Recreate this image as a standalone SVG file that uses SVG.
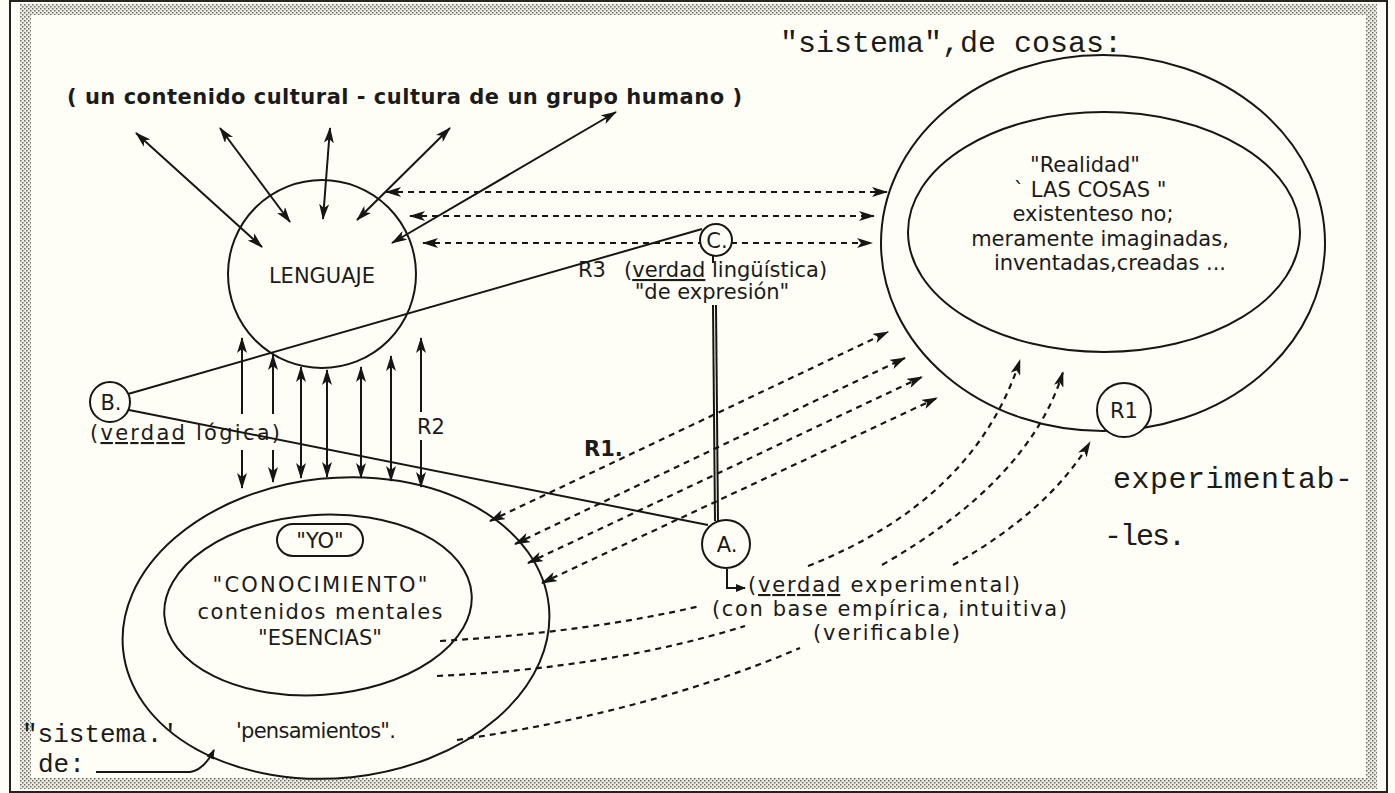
<svg xmlns="http://www.w3.org/2000/svg" width="1395" height="793" viewBox="0 0 1395 793">
<defs>
<pattern id="stip" width="4" height="4" patternUnits="userSpaceOnUse">
<rect width="4" height="4" fill="#ecece4"/>
<rect width="1.5" height="1.5" fill="#6d6d66"/>
<rect x="2" y="2" width="1.5" height="1.5" fill="#6d6d66"/>
</pattern>
<marker id="ah" viewBox="0 0 16 10" refX="15" refY="5" markerWidth="16" markerHeight="10" markerUnits="userSpaceOnUse" orient="auto-start-reverse"><path d="M0,0 L16,5 L0,10 L4,5 z" fill="#161616"/></marker>
<marker id="as" viewBox="0 0 10 8" refX="9" refY="4" markerWidth="10" markerHeight="8" markerUnits="userSpaceOnUse" orient="auto"><path d="M0,0 L10,4 L0,8 z" fill="#161616"/></marker>
</defs>
<style>
.t{font-family:"DejaVu Sans","Liberation Sans",sans-serif;font-size:21px;fill:#1b1b1b}
.c{text-anchor:middle}
.m{font-family:"Liberation Mono","Courier New",monospace;fill:#1b1b1b}
.ln{stroke:#161616;stroke-width:2;fill:none}
.ds{stroke:#161616;stroke-width:2.2;fill:none;stroke-dasharray:6 5}
.a2{marker-start:url(#ah);marker-end:url(#ah)}
.a1{marker-end:url(#ah)}
.nd{fill:#fffef6;stroke:#161616;stroke-width:2}
.u{text-decoration:underline}
</style>
<rect width="1395" height="793" fill="#fffef6"/>
<g id="frame">
<rect x="20" y="4" width="1357" height="11" fill="url(#stip)"/>
<rect x="20" y="4" width="11" height="785" fill="url(#stip)"/>
<rect x="1366" y="4" width="11" height="785" fill="url(#stip)"/>
<rect x="20" y="778" width="1357" height="11" fill="url(#stip)"/>
<rect x="10" y="1" width="1377" height="791" fill="none" stroke="#222" stroke-width="2"/>
</g>

<g id="titles">
<text class="t" x="67" y="104" font-weight="bold" font-size="20" textLength="675">( un contenido cultural - cultura de un grupo humano )</text>
<text class="m" x="780" y="52" font-size="30">"sistema",de cosas:</text>
</g>

<g id="connectors">
<line x1="262" y1="247" x2="136" y2="133" class="ln a2"/>
<line x1="290" y1="222" x2="220" y2="128" class="ln a2"/>
<line x1="323" y1="219" x2="330" y2="128" class="ln a2"/>
<line x1="357" y1="220" x2="450" y2="128" class="ln a2"/>
<line x1="392" y1="243" x2="616" y2="112" class="ln a2"/>

<line x1="386" y1="192" x2="887" y2="192" class="ds a2"/>
<line x1="410" y1="216" x2="874" y2="216" class="ds a2"/>
<line x1="423" y1="243" x2="872" y2="243" class="ds a2"/>

<line x1="242" y1="414" x2="242" y2="338" class="ln a1"/>
<line x1="242" y1="450" x2="242" y2="488" class="ln a1"/>
<line x1="273" y1="414" x2="273" y2="355" class="ln a1"/>
<line x1="273" y1="450" x2="273" y2="482" class="ln a1"/>
<line x1="301" y1="367" x2="301" y2="478" class="ln a2"/>
<line x1="327" y1="370" x2="327" y2="477" class="ln a2"/>
<line x1="361" y1="367" x2="361" y2="478" class="ln a2"/>
<line x1="391" y1="356" x2="391" y2="481" class="ln a2"/>
<line x1="421" y1="412" x2="421" y2="338" class="ln a1"/>
<line x1="421" y1="440" x2="421" y2="487" class="ln a1"/>

<line x1="128" y1="394" x2="702" y2="229" class="ln"/>
<line x1="129" y1="410" x2="708" y2="525" class="ln"/>
<line x1="713" y1="256" x2="713" y2="263" class="ln"/>
<line x1="713" y1="305" x2="715" y2="521" class="ln" stroke-width="1.6"/>
<line x1="716" y1="305" x2="718" y2="521" class="ln" stroke-width="1.6"/>

<line x1="490" y1="521" x2="888" y2="332" class="ds a2"/>
<line x1="515" y1="544" x2="905" y2="358" class="ds a2"/>
<line x1="528" y1="563" x2="922" y2="377" class="ds a2"/>
<line x1="542" y1="583" x2="937" y2="398" class="ds a2"/>

<path d="M440,641 Q590,632 700,606" class="ds"/>
<path d="M437,676 Q610,668 745,626" class="ds"/>
<path d="M457,740 Q650,712 800,648" class="ds"/>
<path d="M808,566 Q975,500 1020,360" class="ds a1"/>
<path d="M882,565 Q1030,480 1063,372" class="ds a1"/>
<path d="M953,565 Q1050,510 1090,442" class="ds a1"/>

<path d="M727,569 L727,588 L745,588" class="ln" marker-end="url(#as)"/>
<path d="M96,772 L190,772 Q204,770 214,750" class="ln" stroke-width="1.6" marker-end="url(#as)"/>
</g>

<g id="lenguaje">
<circle cx="322" cy="274" r="94" class="ln"/>
<text class="t c" x="322" y="283" font-size="24">LENGUAJE</text>
</g>

<g id="nodeC">
<circle cx="716" cy="240" r="16" class="nd"/>
<text class="t c" x="717" y="248" font-size="21">C.</text>
<text class="t" x="578" y="277" font-size="20">R3</text>
<text class="t" x="624" y="277" font-size="20">(<tspan class="u">verdad</tspan> lingüística)</text>
<text class="t c" x="712" y="299" font-size="20">"de expresión"</text>
</g>

<g id="nodeB">
<circle cx="110" cy="402" r="20" class="nd"/>
<text class="t c" x="111" y="410" font-size="21">B.</text>
<text class="t" x="90" y="440" font-size="22" textLength="190">(<tspan class="u">verdad</tspan> lógica)</text>
<text class="t" x="417" y="434" font-size="20">R2</text>
</g>

<g id="nodeA">
<circle cx="726" cy="544" r="24" class="nd"/>
<text class="t c" x="727" y="552" font-size="21">A.</text>
<text class="t" x="584" y="456" font-size="22" font-weight="bold">R1.</text>
<text class="t" x="748" y="592" font-size="21" textLength="272">(<tspan class="u">verdad</tspan> experimental)</text>
<text class="t" x="712" y="616" font-size="21" textLength="355">(con base empírica, intuitiva)</text>
<text class="t" x="813" y="640" font-size="21" textLength="147">(verificable)</text>
</g>

<g id="yo">
<ellipse cx="336" cy="628" rx="214" ry="150" transform="rotate(-6 336 628)" class="ln"/>
<ellipse cx="318" cy="605" rx="154" ry="90" transform="rotate(-4 318 605)" class="ln"/>
<rect x="277" y="524" width="86" height="32" rx="16" class="ln"/>
<text class="t c" x="320" y="548" font-size="21">"YO"</text>
<text class="t c" x="320" y="592" font-size="22" textLength="215">"CONOCIMIENTO"</text>
<text class="t c" x="320" y="619" font-size="22" textLength="245">contenidos mentales</text>
<text class="t c" x="320" y="645" font-size="22" textLength="124">"ESENCIAS"</text>
<text class="t" x="236" y="738" font-size="22" textLength="160">'pensamientos".</text>
<text class="m" x="22" y="742" font-size="26">"sistema.'</text>
<text class="m" x="38" y="772" font-size="26">de:</text>
</g>

<g id="realidad">
<ellipse cx="1103" cy="243" rx="222" ry="188" class="ln"/>
<ellipse cx="1104" cy="232" rx="196" ry="120" class="ln"/>
<text class="t c" x="1085" y="172" font-size="23">"Realidad"</text>
<text class="t c" x="1090" y="197" font-size="23">` LAS COSAS "</text>
<text class="t c" x="1093" y="221" font-size="23">existenteso no;</text>
<text class="t c" x="1100" y="246" font-size="23">meramente imaginadas,</text>
<text class="t c" x="1110" y="270" font-size="23">inventadas,creadas ...</text>
</g>

<g id="r1">
<circle cx="1124" cy="410" r="27" class="nd"/>
<text class="t c" x="1124" y="418" font-size="21">R1</text>
</g>

<g id="side">
<text class="m" x="1113" y="488" font-size="30" textLength="240">experimentab-</text>
<text class="m" x="1104" y="545" font-size="30" textLength="82">-les.</text>
</g>
</svg>
